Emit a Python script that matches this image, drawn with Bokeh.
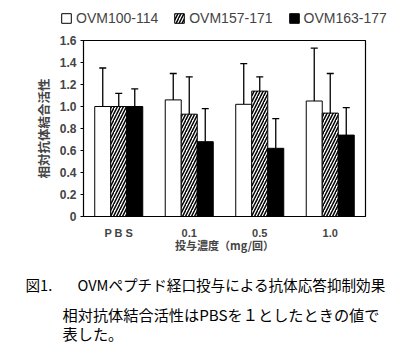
from bokeh.plotting import figure
from bokeh.layouts import column
from bokeh.models import (ColumnDataSource, FactorRange, Range1d, FixedTicker, Whisker, TeeHead,
                          Legend, LegendItem, Label, NumeralTickFormatter, Plot)
from bokeh.transform import dodge
from bokeh.embed import file_html
from bokeh.resources import INLINE

categories = ["P B S", "0.1", "0.5", "1.0"]
series_names = ["OVM100-114", "OVM157-171", "OVM163-177"]
ovm100 = [1.00, 1.06, 1.02, 1.05]
ovm100_sd = [0.35, 0.24, 0.37, 0.48]
ovm157 = [1.00, 0.93, 1.14, 0.94]
ovm157_sd = [0.12, 0.34, 0.13, 0.36]
ovm163 = [1.00, 0.68, 0.62, 0.74]
ovm163_sd = [0.16, 0.30, 0.27, 0.25]
y_ticks = [0, 0.2, 0.4, 0.6, 0.8, 1.0, 1.2, 1.4, 1.6]

y_title = "相対抗体結合活性"
x_title = "投与濃度（mg/回）"
fig_no = "図1."
caption1 = "OVMペプチド経口投与による抗体応答抑制効果"
caption2 = "相対抗体結合活性はPBSを１としたときの値で"
caption3 = "表した。"

LATIN = "Liberation Sans"
CJK = "Noto Sans CJK JP"
HAS_FRAME_ALIGN = "frame_align" in Plot.properties()

w = 0.227
off = [-w, 0.0, w]
styles = [dict(fill_color="white"),
          dict(fill_color="white", hatch_pattern="/", hatch_color="black", hatch_scale=6, hatch_weight=1.5),
          dict(fill_color="black")]

src = ColumnDataSource(dict(cat=categories,
                            a=ovm100, a_hi=[v + s for v, s in zip(ovm100, ovm100_sd)],
                            b=ovm157, b_hi=[v + s for v, s in zip(ovm157, ovm157_sd)],
                            c=ovm163, c_hi=[v + s for v, s in zip(ovm163, ovm163_sd)]))
cols = [("a", "a_hi"), ("b", "b_hi"), ("c", "c_hi")]


def blank_fig(height, y0=0):
    f = figure(width=400, height=height, x_range=Range1d(0, 400), y_range=Range1d(y0, y0 + height),
               output_backend="svg", toolbar_location=None, min_border=0,
               x_axis_type=None, y_axis_type=None)
    f.outline_line_color = None
    f.grid.visible = False
    f.background_fill_color = "white"
    f.border_fill_color = "white"
    if HAS_FRAME_ALIGN:
        f.frame_align = False
    return f

# ---- legend strip (its renderers share the chart data but lie outside this strip's view)
leg = blank_fig(30, y0=100)
leg_rs = [leg.vbar(x=col, top=col, width=w, source=src, line_color="black", line_width=1, **st)
          for (col, hi), st in zip(cols, styles)]
legend = Legend(items=[LegendItem(label=n, renderers=[r], index=0) for n, r in zip(series_names, leg_rs)],
                orientation="horizontal", location=(60, 4),
                glyph_width=12, glyph_height=12, label_standoff=4, spacing=15,
                padding=0, margin=0, border_line_alpha=0, background_fill_alpha=0,
                label_text_font=LATIN, label_text_font_size="14px", label_height=12)
leg.add_layout(legend)

# ---- chart
p = figure(width=400, height=226, x_range=FactorRange(*categories), y_range=Range1d(0, 1.6),
           output_backend="svg", toolbar_location=None,
           min_border_left=83, min_border_right=35, min_border_top=10, min_border_bottom=40)
if HAS_FRAME_ALIGN:
    p.frame_align = False
p.background_fill_color = "white"
p.border_fill_color = "white"
p.grid.visible = False
p.outline_line_color = "black"
p.outline_line_width = 1.2
p.x_range.range_padding = 0

for (col, hi), o, st in zip(cols, off, styles):
    p.vbar(x=dodge("cat", o, range=p.x_range), top=col, width=w, source=src,
           line_color="black", line_width=1, **st)
    p.add_layout(Whisker(base=dodge("cat", o, range=p.x_range), lower=col, upper=hi, source=src,
                         line_color="black", line_width=1.3, lower_head=None,
                         upper_head=TeeHead(size=7, line_color="black", line_width=1.3)))

p.yaxis.ticker = FixedTicker(ticks=y_ticks)
p.yaxis.formatter = NumeralTickFormatter(format="0.0")
p.yaxis.major_label_overrides = {0: "0"}
p.yaxis.minor_tick_line_color = None
p.yaxis.major_tick_out = 3
p.yaxis.major_tick_in = 0
p.yaxis.major_label_standoff = 4
p.yaxis.major_label_text_font = LATIN
p.yaxis.major_label_text_font_size = "12px"
p.yaxis.major_label_text_font_style = "bold"
p.yaxis.axis_label = y_title
p.yaxis.axis_label_text_font = CJK
p.yaxis.axis_label_text_font_size = "12.5px"
p.yaxis.axis_label_text_font_style = "bold"
p.yaxis.axis_label_standoff = 4
p.yaxis.axis_line_color = "black"

p.xaxis.major_tick_line_color = None
p.xaxis.minor_tick_line_color = None
p.xaxis.major_label_standoff = 4
p.xaxis.major_label_text_font = LATIN
p.xaxis.major_label_text_font_size = "11px"
p.xaxis.major_label_text_font_style = "bold"
p.xaxis.axis_label = x_title
p.xaxis.axis_label_text_font = CJK
p.xaxis.axis_label_text_font_size = "11px"
p.xaxis.axis_label_text_font_style = "bold"
p.xaxis.axis_label_standoff = -5
p.xaxis.axis_line_color = "black"

# ---- captions
cap = blank_fig(98)

def add_label(txt, x, y, size):
    cap.add_layout(Label(x=x, y=y, x_units="screen", y_units="screen", text=txt,
                         text_font=CJK, text_font_size=size, text_baseline="middle",
                         text_color="black"))

add_label(fig_no, 25, 70, "14.6px")
add_label(caption1, 77, 70, "14.6px")
add_label(caption2, 62, 41, "15.2px")
add_label(caption3, 62, 22, "15.2px")

layout = column(leg, p, cap, spacing=0)
open("out.html", "w").write(file_html(layout, INLINE))
